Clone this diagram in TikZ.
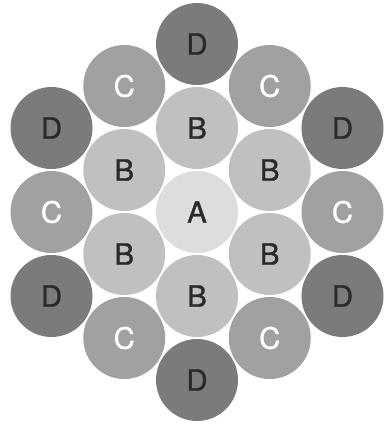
\documentclass[tikz,border=0pt]{standalone}
\usepackage{fontspec}
\setmainfont{TeX Gyre Heros}[FakeBold=1.2]
\definecolor{greyA}{HTML}{DCDDDF}
\definecolor{greyB}{HTML}{C0C0C2}
\definecolor{greyC}{HTML}{A1A1A3}
\definecolor{greyD}{HTML}{7B7B7D}
\definecolor{inkdark}{HTML}{2A2A2A}
\begin{document}
\begin{tikzpicture}[x=0.75pt, y=0.75pt,
    ball/.style={circle, inner sep=0pt, minimum size=61.5pt,
        font=\fontsize{22}{22}\selectfont},
    ringA/.style={ball, fill=greyA, text=inkdark},
    ringB/.style={ball, fill=greyB, text=inkdark},
    ringC/.style={ball, fill=greyC, text=white},
    ringD/.style={ball, fill=greyD, text=inkdark}]
    \useasboundingbox (-197,-213) rectangle (189,212);

    % Centre
    \node[ringA] (a) at (0,0) {A};

    % First ring (radius 84): angles 90, 30, -30, -90, -150, 150
    \node[ringB] (b1) at (90:84) {B};
    \node[ringB] (b2) at (30:84) {B};
    \node[ringB] (b3) at (-30:84) {B};
    \node[ringB] (b4) at (-90:84) {B};
    \node[ringB] (b5) at (-150:84) {B};
    \node[ringB] (b6) at (150:84) {B};

    % Second ring, edges (radius 145.5): angles 60, 0, -60, -120, 180, 120
    \node[ringC] (c1) at (60:145.5) {C};
    \node[ringC] (c2) at (0:145.5) {C};
    \node[ringC] (c3) at (-60:145.5) {C};
    \node[ringC] (c4) at (-120:145.5) {C};
    \node[ringC] (c5) at (180:145.5) {C};
    \node[ringC] (c6) at (120:145.5) {C};

    % Second ring, corners (radius 168): angles 90, 30, -30, -90, -150, 150
    \node[ringD] (d1) at (90:168) {D};
    \node[ringD] (d2) at (30:168) {D};
    \node[ringD] (d3) at (-30:168) {D};
    \node[ringD] (d4) at (-90:168) {D};
    \node[ringD] (d5) at (-150:168) {D};
    \node[ringD] (d6) at (150:168) {D};
\end{tikzpicture}
\end{document}
